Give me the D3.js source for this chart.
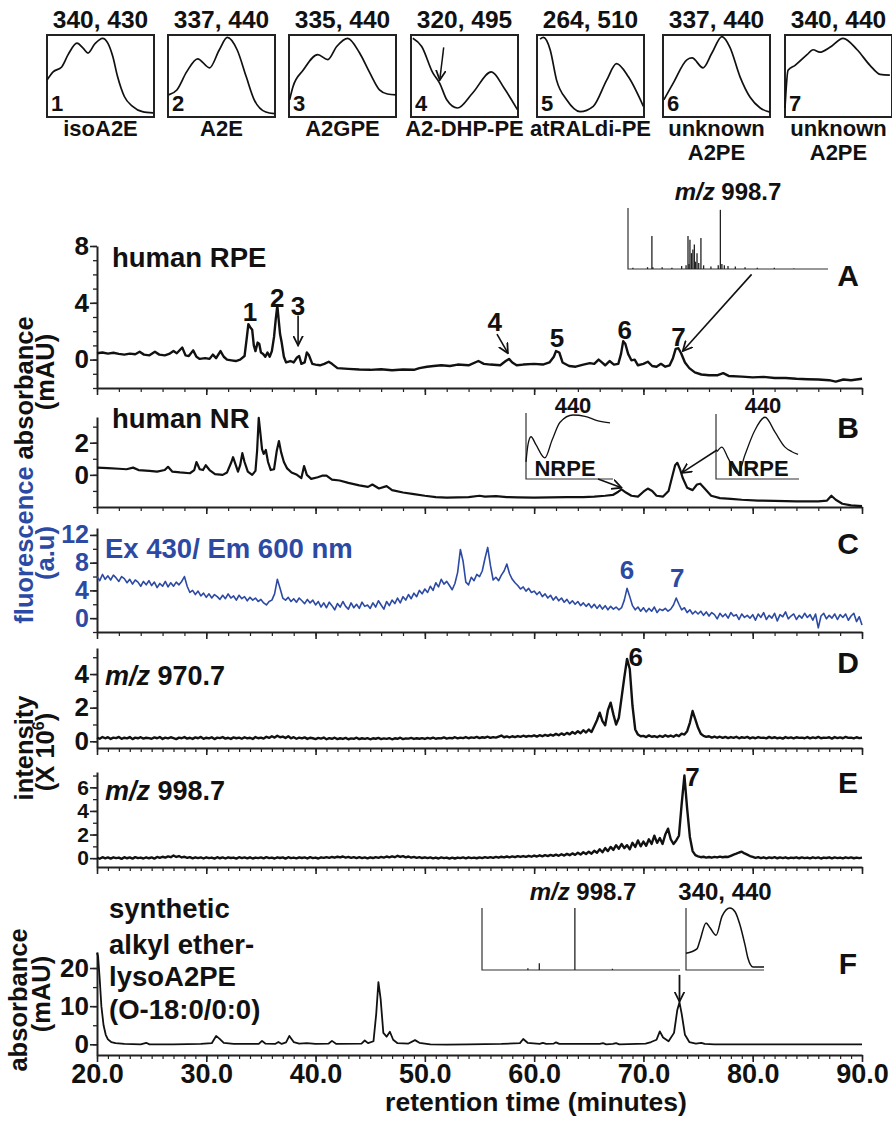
<!DOCTYPE html>
<html>
<head>
<meta charset="utf-8">
<script src="https://cdn.jsdelivr.net/npm/d3@7"></script>
<style>
  body { margin: 0; background: #fff; }
  text { font-family: "Liberation Sans", Arial, Helvetica, sans-serif; font-weight: bold; }
</style>
</head>
<body>
<svg id="fig" width="892" height="1124"></svg>
<script>
// ---------------- data ----------------
const spectrumLabels = ["340, 430", "337, 440", "335, 440", "320, 495", "264, 510", "337, 440", "340, 440"];
const compoundNames = [["isoA2E"], ["A2E"], ["A2GPE"], ["A2-DHP-PE"], ["atRALdi-PE"], ["unknown", "A2PE"], ["unknown", "A2PE"]];

// UV-vis spectra of peaks 1-7: [wavelength nm, relative absorbance]
const spec1 = [[250,0.45],[270,0.55],[298,0.61],[319,0.76],[348,0.90],[368,0.84],[384,0.78],[406,0.89],[432,0.96],[449,0.90],[465,0.74],[481,0.49],[503,0.25],[530,0.13],[562,0.065],[597,0.05]];
const spec2 = [[252,0.27],[279,0.33],[311,0.55],[347,0.71],[386,0.60],[418,0.82],[444,0.97],[476,0.82],[506,0.49],[532,0.21],[570,0.06],[598,0.04]];
const spec3 = [[252,0.21],[263,0.37],[296,0.57],[344,0.76],[377,0.70],[406,0.86],[442,0.96],[481,0.78],[514,0.54],[546,0.33],[572,0.28],[600,0.27]];
const spec4 = [[256,0.96],[285,0.86],[321,0.54],[344,0.41],[367,0.21],[402,0.11],[451,0.29],[513,0.55],[555,0.35],[598,0.09]];
const spec5 = [[260,0.95],[271,0.97],[293,0.82],[314,0.45],[347,0.21],[391,0.065],[434,0.13],[478,0.45],[510,0.65],[549,0.49],[598,0.13]];
const spec6 = [[253,0.21],[283,0.41],[329,0.70],[345,0.72],[381,0.60],[410,0.78],[443,0.98],[469,0.85],[502,0.49],[535,0.24],[568,0.11],[600,0.06]];
const spec7 = [[250,0.11],[260,0.57],[283,0.63],[322,0.76],[342,0.82],[364,0.79],[397,0.85],[440,0.96],[486,0.82],[528,0.63],[561,0.52],[593,0.51]];
const spectra = [spec1, spec2, spec3, spec4, spec5, spec6, spec7];

// A: human RPE, absorbance (mAU) vs retention time (min)
const rpeTrace = [[20,0.45],[20.5,0.5],[21,0.42],[21.5,0.48],[22,0.4],[22.5,0.35],[23,0.42],[23.5,0.38],[23.9,0.55],[24.3,0.35],[24.8,0.3],[25.3,0.55],[25.7,0.35],[26.2,0.3],[26.6,0.4],[27,0.6],[27.3,0.45],[27.8,0.85],[28.1,0.3],[28.4,0.25],[28.8,0.65],[29.1,0.2],[29.4,0.05],[29.9,0.1],[30.3,0.05],[30.6,0.35],[30.9,0.1],[31.3,0.6],[31.6,0.2],[31.9,0.0],[32.3,-0.05],[32.7,-0.1],[33.1,0.0],[33.5,0.25],[33.7,1.5],[33.85,2.5],[34.0,2.3],[34.2,2.1],[34.35,1.0],[34.5,0.6],[34.7,1.2],[34.85,1.1],[35.0,0.5],[35.2,0.4],[35.4,0.2],[35.6,0.5],[35.8,0.2],[36.0,0.6],[36.2,1.6],[36.35,2.8],[36.5,3.8],[36.6,3.0],[36.75,1.8],[36.9,1.2],[37.1,0.2],[37.3,-0.2],[37.7,-0.1],[38.0,-0.2],[38.3,0.15],[38.5,0.25],[38.7,-0.3],[39.0,-0.2],[39.2,0.5],[39.4,0.3],[39.7,-0.3],[40,-0.35],[40.4,-0.4],[40.8,-0.3],[41.2,-0.15],[41.5,-0.3],[42,-0.6],[43,-0.65],[44,-0.7],[45,-0.72],[46,-0.68],[47,-0.75],[48,-0.7],[49,-0.72],[49.5,-0.6],[50.2,-0.5],[50.8,-0.45],[51.5,-0.4],[52.3,-0.45],[53,-0.35],[54,-0.4],[54.9,-0.1],[55.4,-0.3],[56,-0.35],[56.9,-0.4],[57.4,-0.1],[57.7,0.05],[58.0,-0.2],[58.4,-0.4],[59,-0.35],[60,-0.3],[60.8,-0.35],[61.4,-0.2],[61.8,0.2],[62.0,0.6],[62.3,0.5],[62.6,-0.2],[63.2,-0.45],[63.8,-0.5],[64.5,-0.35],[65.1,-0.25],[65.5,-0.3],[65.9,0.0],[66.2,-0.2],[66.5,-0.4],[66.9,-0.1],[67.3,-0.35],[67.7,-0.3],[67.95,0.4],[68.15,1.3],[68.35,1.1],[68.6,0.4],[68.9,-0.05],[69.2,0.0],[69.5,-0.4],[70.0,-0.3],[70.4,-0.15],[70.8,-0.45],[71.2,-0.5],[71.6,-0.3],[72.0,-0.5],[72.4,-0.4],[72.7,0.1],[72.95,0.75],[73.2,0.8],[73.45,0.45],[73.8,-0.2],[74.2,-0.6],[74.7,-0.9],[75.3,-1.05],[76,-1.1],[76.8,-1.1],[77.3,-0.95],[77.8,-1.15],[79,-1.2],[80,-1.25],[81,-1.22],[82,-1.3],[83,-1.3],[84,-1.35],[85,-1.38],[86,-1.4],[87,-1.45],[87.6,-1.55],[88.3,-1.4],[89,-1.45],[90,-1.35]];

// B: human NR, absorbance (mAU)
const nrTrace = [[20,0.45],[21,0.42],[22,0.38],[22.7,0.35],[23.3,0.45],[23.8,0.3],[24.8,0.25],[25.5,0.2],[26.2,0.3],[26.5,0.5],[26.9,0.2],[27.6,0.15],[28.5,0.1],[28.9,0.3],[29.1,0.8],[29.4,0.35],[29.7,0.3],[29.95,0.6],[30.3,0.3],[30.8,0.05],[31.5,0.0],[31.9,0.15],[32.3,0.8],[32.45,1.1],[32.7,0.6],[32.9,0.2],[33.1,0.6],[33.3,1.35],[33.5,0.8],[33.8,0.2],[34.2,0.0],[34.5,0.25],[34.65,1.5],[34.8,3.55],[34.95,2.6],[35.1,1.6],[35.25,1.3],[35.45,1.55],[35.65,0.8],[35.9,0.3],[36.2,0.35],[36.45,1.5],[36.65,2.1],[36.85,1.4],[37.1,0.8],[37.4,0.4],[37.8,0.15],[38.3,0.0],[38.7,-0.2],[38.95,0.55],[39.2,0.0],[39.6,-0.25],[40.2,-0.15],[40.6,-0.05],[41.0,-0.05],[41.5,-0.3],[42.2,-0.35],[43,-0.5],[44,-0.65],[44.8,-0.75],[45.2,-0.6],[45.8,-0.85],[46.5,-0.7],[47,-0.95],[48,-1.1],[49,-1.2],[50,-1.3],[51,-1.38],[52,-1.42],[53,-1.4],[54,-1.38],[55,-1.3],[55.5,-1.35],[56.5,-1.32],[57.5,-1.38],[58.5,-1.4],[60,-1.42],[61.5,-1.4],[63,-1.38],[64.5,-1.38],[65.5,-1.35],[66.5,-1.3],[67.2,-1.25],[67.7,-1.05],[68.0,-0.9],[68.4,-1.1],[68.9,-1.3],[69.5,-1.35],[70.0,-1.05],[70.4,-0.85],[70.8,-1.0],[71.2,-1.3],[71.8,-1.35],[72.3,-1.0],[72.6,-0.2],[72.9,0.6],[73.1,0.75],[73.35,0.35],[73.6,-0.2],[74.0,-0.8],[74.5,-0.95],[74.9,-0.6],[75.2,-0.55],[75.6,-0.85],[76.2,-1.3],[77,-1.45],[78,-1.5],[79,-1.55],[80.5,-1.6],[82,-1.62],[84,-1.65],[86,-1.65],[86.8,-1.6],[87.2,-1.3],[87.6,-1.55],[88.2,-1.8],[89,-1.9],[90,-1.95]];

// C, D, E are sampled every 0.25 min from 20.0 to 90.0 min
const SAMPLE_START = 20, SAMPLE_STEP = 0.25;

// C: fluorescence Ex 430 / Em 600 nm (a.u.)
const fluorValues = [
 6.0,5.4,6.3,5.6,6.1,5.5,6.2,5.8,5.3,6.0,5.7,5.1,5.6,4.9,5.5,5.2,4.6,5.3,4.8,5.4,
 4.7,5.2,4.4,5.0,4.6,5.3,4.5,5.1,4.6,5.2,4.8,5.3,6.0,4.6,3.7,4.0,3.4,3.9,3.2,3.6,
 3.0,3.5,2.9,3.4,3.1,2.7,3.3,2.8,3.5,2.9,3.2,2.6,3.3,2.8,3.1,2.5,3.0,2.6,2.9,2.4,
 2.7,2.2,1.9,2.4,2.6,3.5,5.6,4.3,2.9,2.6,3.0,2.4,2.8,2.3,2.9,2.5,2.1,2.7,2.2,2.6,
 1.9,2.4,1.6,2.2,1.5,2.3,1.8,1.2,2.1,1.6,2.4,1.7,1.3,2.2,1.5,2.0,1.4,2.3,1.7,1.9,
 1.4,2.2,1.6,2.5,1.9,1.3,2.4,1.8,2.6,2.1,2.9,2.2,3.1,2.6,3.4,2.8,3.6,3.1,4.0,3.5,
 4.2,3.7,4.6,4.0,5.1,4.5,5.6,4.9,5.3,4.7,4.1,5.0,6.6,9.9,8.2,5.2,4.8,5.9,5.4,6.3,
 6.0,6.8,8.6,10.2,7.6,5.5,5.9,5.4,6.2,6.8,7.8,6.4,5.6,5.1,4.7,4.2,4.5,3.9,4.3,3.7,
 3.9,3.4,3.8,3.1,3.5,2.9,3.3,2.6,3.1,2.5,2.9,2.3,2.7,2.1,2.5,2.0,2.4,1.8,2.2,1.7,
 2.1,1.5,2.0,1.4,1.9,1.3,1.8,1.2,1.7,1.3,1.6,1.2,1.5,2.6,4.3,3.1,1.8,1.2,1.6,1.0,
 1.5,0.9,1.4,1.0,1.6,0.8,1.3,1.1,1.4,1.0,1.3,1.9,2.9,2.0,1.2,1.5,0.8,1.2,0.6,1.0,
 0.6,1.0,0.4,0.9,0.3,0.8,0.5,-0.1,0.7,0.2,0.6,0.0,0.8,0.3,0.5,-0.2,0.6,0.1,0.4,0.0,
 0.5,-0.3,0.6,0.1,0.8,-0.2,0.4,0.0,0.7,-0.4,0.5,0.2,0.9,-0.1,0.3,0.6,-0.2,0.4,0.0,0.7,
 0.1,0.5,-0.3,0.6,-1.4,0.3,0.7,-0.1,0.4,0.0,0.6,-0.2,0.5,0.1,0.6,-0.3,0.3,0.7,-0.5,0.2,
 -1.0];

// D: extracted ion m/z 970.7, intensity (x 10^6)
const ion970Values = [
 0.22,0.15,0.25,0.18,0.24,0.14,0.22,0.19,0.26,0.15,0.21,0.17,0.25,0.13,0.22,0.18,0.24,0.16,0.21,0.19,
 0.15,0.23,0.18,0.25,0.14,0.22,0.17,0.24,0.19,0.13,0.22,0.18,0.25,0.16,0.21,0.14,0.23,0.18,0.26,0.15,
 0.21,0.17,0.24,0.13,0.22,0.19,0.25,0.16,0.21,0.14,0.23,0.18,0.22,0.15,0.24,0.17,0.21,0.14,0.25,0.18,
 0.22,0.16,0.27,0.2,0.3,0.22,0.33,0.24,0.28,0.2,0.3,0.18,0.24,0.15,0.22,0.17,0.23,0.14,0.21,0.18,
 0.13,0.2,0.16,0.22,0.12,0.19,0.15,0.21,0.13,0.18,0.14,0.2,0.12,0.17,0.15,0.21,0.13,0.18,0.14,0.19,
 0.12,0.18,0.15,0.2,0.13,0.17,0.14,0.19,0.12,0.18,0.15,0.21,0.13,0.17,0.16,0.2,0.14,0.18,0.15,0.19,
 0.14,0.2,0.16,0.22,0.15,0.19,0.17,0.23,0.16,0.2,0.18,0.24,0.17,0.22,0.19,0.25,0.18,0.23,0.2,0.26,
 0.19,0.24,0.21,0.27,0.2,0.25,0.22,0.28,0.34,0.24,0.29,0.23,0.3,0.25,0.31,0.26,0.33,0.27,0.32,0.29,
 0.35,0.28,0.36,0.3,0.38,0.32,0.4,0.34,0.44,0.36,0.47,0.38,0.5,0.41,0.55,0.45,0.6,0.48,0.66,0.52,
 0.7,0.55,0.9,1.25,1.7,1.2,0.95,1.85,2.3,1.6,1.0,1.4,2.6,3.8,4.9,4.3,2.1,0.7,0.4,0.3,
 0.32,0.25,0.35,0.27,0.3,0.24,0.33,0.26,0.36,0.28,0.34,0.27,0.38,0.3,0.45,0.4,0.6,1.1,1.8,1.3,
 0.8,0.45,0.32,0.26,0.3,0.22,0.28,0.21,0.27,0.2,0.26,0.19,0.25,0.2,0.27,0.18,0.24,0.2,0.26,0.17,
 0.23,0.18,0.25,0.2,0.22,0.17,0.26,0.19,0.24,0.18,0.22,0.16,0.25,0.19,0.23,0.17,0.24,0.2,0.22,0.18,
 0.25,0.17,0.23,0.19,0.26,0.18,0.22,0.2,0.24,0.16,0.25,0.19,0.23,0.18,0.26,0.2,0.22,0.17,0.24,0.19,
 0.21];

// E: extracted ion m/z 998.7, intensity (x 10^6)
const ion998Values = [
 0.05,-0.05,0.08,-0.02,0.06,-0.04,0.07,0.0,0.05,-0.06,0.08,-0.01,0.06,-0.04,0.09,0.0,0.05,-0.03,0.07,-0.01,
 0.06,-0.04,0.1,0.02,0.12,0.05,0.15,0.08,0.22,0.1,0.18,0.06,0.12,0.02,0.09,-0.02,0.07,0.0,0.06,-0.03,
 0.07,0.0,0.05,-0.04,0.08,-0.01,0.06,-0.03,0.07,0.01,0.05,-0.04,0.08,0.0,0.06,-0.02,0.07,-0.03,0.05,0.0,
 0.06,-0.02,0.08,0.0,0.05,-0.03,0.07,0.01,0.06,-0.04,0.08,0.0,0.05,-0.02,0.07,0.01,0.06,-0.03,0.08,0.0,
 0.05,-0.03,0.07,0.02,0.09,0.03,0.1,0.04,0.12,0.06,0.14,0.05,0.11,0.03,0.09,0.01,0.08,0.0,0.06,-0.02,
 0.07,0.01,0.09,0.03,0.11,0.05,0.14,0.07,0.16,0.08,0.2,0.1,0.17,0.07,0.14,0.05,0.11,0.03,0.09,0.01,
 0.07,0.0,0.06,-0.02,0.05,-0.03,0.06,0.0,0.05,-0.04,0.04,-0.03,0.05,0.0,0.06,-0.02,0.07,0.0,0.05,-0.01,
 0.06,0.0,0.08,0.02,0.09,0.03,0.11,0.04,0.12,0.06,0.14,0.07,0.15,0.08,0.17,0.1,0.18,0.11,0.2,0.12,
 0.22,0.14,0.24,0.15,0.26,0.17,0.28,0.19,0.3,0.2,0.33,0.22,0.36,0.25,0.4,0.28,0.45,0.3,0.5,0.35,
 0.55,0.38,0.62,0.45,0.75,0.5,0.85,0.6,0.95,0.7,1.1,0.8,1.2,0.85,1.1,0.75,1.3,0.95,1.5,1.0,
 1.4,1.05,1.6,1.2,1.9,1.3,1.7,1.2,2.0,2.5,1.6,1.2,1.5,1.9,4.6,7.0,4.2,1.8,0.6,0.25,
 0.15,0.08,0.12,0.05,0.1,0.04,0.11,0.06,0.13,0.08,0.12,0.1,0.2,0.3,0.38,0.48,0.55,0.4,0.3,0.18,
 0.1,0.02,0.08,0.0,0.07,-0.02,0.06,0.01,0.08,-0.01,0.06,0.0,0.07,-0.02,0.05,0.01,0.07,-0.01,0.06,0.0,
 0.05,-0.02,0.07,0.0,0.06,-0.03,0.05,0.01,0.07,-0.02,0.06,0.0,0.05,-0.02,0.07,0.0,0.06,-0.01,0.05,0.0,
 0.04];

// F: synthetic alkyl ether-lysoA2PE, absorbance (mAU)
const syntheticTrace = [[20.0,24],[20.1,23],[20.25,17],[20.4,10],[20.6,5],[20.8,2.5],[21.0,1.3],[21.3,0.6],[21.7,0.3],[22.5,0.1],[24,0.0],[24.5,0.4],[24.8,0.0],[27,0.0],[29.5,0.1],[30.5,0.3],[30.9,2.2],[31.2,1.5],[31.6,0.4],[32.5,0.1],[34.8,0.1],[35.1,0.9],[35.4,0.2],[36.3,0.1],[36.6,0.6],[36.9,0.1],[37.3,0.5],[37.6,2.2],[38.0,0.6],[38.5,0.2],[39.2,0.3],[40,0.1],[41.2,0.2],[41.5,0.9],[41.9,0.1],[44.2,0.2],[44.5,1.0],[44.8,0.3],[45.3,0.8],[45.55,8],[45.75,16.3],[45.95,12],[46.2,3],[46.5,2],[46.8,3.3],[47.1,1.2],[47.5,0.3],[48.5,0.2],[49.1,1.1],[49.5,0.4],[50.5,0.0],[52,-0.1],[54,0.0],[57,0.1],[58.7,0.3],[59.0,1.4],[59.4,0.4],[60.5,0.1],[60.8,0.4],[61.1,0.1],[61.8,0.2],[62.0,0.5],[62.3,0.1],[66,0.1],[66.3,0.3],[66.6,0.0],[67.2,0.1],[67.5,0.3],[67.8,0.0],[70.2,0.2],[70.7,0.6],[71.2,1.2],[71.5,3.4],[71.8,1.8],[72.3,0.8],[72.8,3],[73.1,9],[73.3,11],[73.5,8],[73.8,2.5],[74.2,0.6],[74.8,0.2],[75.3,0.4],[75.6,0.1],[76.5,0.0],[90,0.0]];

// mass spectra insets: [m/z, relative intensity]
const msRpe = [[640,0.02],[700,0.03],[718,0.54],[722,0.03],[760,0.03],[800,0.02],[840,0.05],[858,0.06],[866,0.54],[870,0.08],[874,0.48],[880,0.26],[886,0.32],[892,0.4],[897,0.12],[903,0.26],[910,0.1],[919,0.51],[930,0.06],[960,0.04],[990,0.06],[998.7,0.97],[1005,0.08],[1015,0.06],[1030,0.05],[1060,0.04],[1100,0.03],[1150,0.02],[1220,0.02],[1300,0.01]];
const msSynthetic = [[797,0.03],[846,0.11],[998.7,1.0],[1160,0.02]];

// UV-vis insets of the NR peaks and the synthetic standard: [nm, relative absorbance]
const nrSpecLeft = [[250,0.26],[258,0.52],[270,0.64],[290,0.52],[326,0.32],[355,0.59],[387,0.86],[439,0.97],[487,0.95],[540,0.88],[588,0.85]];
const nrSpecRight = [[254,0.42],[275,0.49],[301,0.32],[343,0.08],[372,0.37],[414,0.75],[457,0.95],[499,0.72],[541,0.49],[570,0.42],[596,0.38]];
const synthSpec = [[250,0.27],[299,0.34],[313,0.48],[340,0.76],[358,0.68],[385,0.56],[412,0.87],[447,1.0],[470,0.94],[492,0.73],[515,0.4],[528,0.19],[551,0.05],[600,0.05]];

const xTickValues = [20, 30, 40, 50, 60, 70, 80, 90];

// ---------------- drawing ----------------
const svg = d3.select("#fig");
const BLUE = "#2c4aa3";
const INK = "#111";
const FONT = '"Liberation Sans", Arial, Helvetica, sans-serif';

svg.append("defs").append("marker")
  .attr("id", "head").attr("viewBox", "0 0 10 10")
  .attr("refX", 9).attr("refY", 5)
  .attr("markerWidth", 11).attr("markerHeight", 11)
  .attr("markerUnits", "userSpaceOnUse")
  .attr("orient", "auto")
  .append("path").attr("d", "M0,0.5 L9,5 L0,9.5")
  .attr("fill", "none").attr("stroke", INK).attr("stroke-width", 1.6);

function arrow(x1, y1, x2, y2, w = 1.6) {
  svg.append("line").attr("x1", x1).attr("y1", y1).attr("x2", x2).attr("y2", y2)
    .attr("stroke", INK).attr("stroke-width", w).attr("marker-end", "url(#head)");
}
function label(txt, px, py, size, opts = {}) {
  return svg.append("text").attr("x", px).attr("y", py)
    .attr("font-size", size).attr("fill", opts.fill || INK)
    .attr("text-anchor", opts.anchor || "middle")
    .attr("font-style", opts.italic ? "italic" : null)
    .text(txt);
}

// ----- spectra boxes along the top -----
const boxLeft = [47, 168, 289, 411, 537, 663, 785];
const boxW = 107, boxTop = 35, boxBottom = 117;
const specLine = d3.line().curve(d3.curveMonotoneX);

spectra.forEach((spec, i) => {
  const sx = d3.scaleLinear().domain([250, 600]).range([boxLeft[i], boxLeft[i] + boxW]);
  const sy = d3.scaleLinear().domain([0, 1]).range([boxBottom, boxTop]);
  svg.append("rect").attr("x", boxLeft[i]).attr("y", boxTop)
    .attr("width", boxW).attr("height", boxBottom - boxTop)
    .attr("fill", "none").attr("stroke", "#222").attr("stroke-width", 2);
  svg.append("path").attr("d", specLine.x(d => sx(d[0])).y(d => sy(d[1]))(spec))
    .attr("fill", "none").attr("stroke", INK).attr("stroke-width", 1.7);
  const cx = boxLeft[i] + boxW / 2;
  label(spectrumLabels[i], cx, 28, 24.5);
  label(String(i + 1), boxLeft[i] + 4, 111, 22, { anchor: "start" });
  compoundNames[i].forEach((nm, k) => label(nm, cx, 136 + k * 24, 22));
  if (i === 3) arrow(sx(357), sy(0.85), sx(344), sy(0.45), 1.5);
});

// ----- chromatogram panels -----
const x = d3.scaleLinear().domain([20, 90]).range([97, 862]);

const panels = {
  A: { top: 246, bottom: 388, domain: [-2, 8], ticks: [0, 4, 8], minor: 1, xMinor: 2, tickFont: 26 },
  B: { top: 417, bottom: 507, domain: [-2, 3.6], ticks: [0, 2], minor: 1, xMinor: 2, tickFont: 26 },
  C: { top: 528, bottom: 632, domain: [-2, 13], ticks: [0, 4, 8, 12], minor: 2, xMinor: 2, tickFont: 25, color: BLUE },
  D: { top: 648, bottom: 748, domain: [-0.4, 5.55], ticks: [0, 2, 4], minor: 1, xMinor: 1, tickFont: 26 },
  E: { top: 772, bottom: 867, domain: [-0.75, 7.3], ticks: [0, 2, 4, 6], minor: 1, xMinor: 1, tickFont: 21 },
  F: { top: 952, bottom: 1055, domain: [-2.8, 24.2], ticks: [0, 10, 20], minor: 5, xMinor: 1, tickFont: 26 }
};

Object.entries(panels).forEach(([key, p]) => {
  p.y = d3.scaleLinear().domain(p.domain).range([p.bottom, p.top]);
  const g = svg.append("g");

  // left axis: minor ticks, then labelled major ticks
  const minorVals = d3.range(Math.ceil(p.domain[0] / p.minor) * p.minor, p.domain[1] + 1e-9, p.minor);
  g.append("g").attr("transform", "translate(97,0)")
    .call(d3.axisLeft(p.y).tickValues(minorVals).tickSize(4).tickSizeOuter(0).tickFormat(""))
    .call(a => a.selectAll("line").attr("stroke", "#222").attr("stroke-width", 1.3))
    .call(a => a.select(".domain").attr("stroke", "#222").attr("stroke-width", 2));
  g.append("g").attr("transform", "translate(97,0)")
    .call(d3.axisLeft(p.y).tickValues(p.ticks).tickSize(7).tickSizeOuter(0).tickPadding(1).tickFormat(d3.format("d")))
    .call(a => a.select(".domain").remove())
    .call(a => a.selectAll("line").attr("stroke", "#222").attr("stroke-width", 1.6))
    .call(a => a.selectAll("text").attr("font-size", p.tickFont).attr("font-family", FONT)
      .attr("font-weight", "bold").attr("fill", p.color || INK));

  // bottom axis
  const minorX = d3.range(20, 90.001, p.xMinor);
  g.append("g").attr("transform", `translate(0,${p.bottom})`)
    .call(d3.axisBottom(x).tickValues(minorX).tickSize(4).tickSizeOuter(0).tickFormat(""))
    .call(a => a.selectAll("line").attr("stroke", "#222").attr("stroke-width", 1.2))
    .call(a => a.select(".domain").attr("stroke", "#222").attr("stroke-width", 2.2));
  const major = g.append("g").attr("transform", `translate(0,${p.bottom})`)
    .call(d3.axisBottom(x).tickValues(xTickValues).tickSize(7).tickSizeOuter(0)
      .tickPadding(2).tickFormat(key === "F" ? d3.format(".1f") : ""))
    .call(a => a.select(".domain").remove())
    .call(a => a.selectAll("line").attr("stroke", "#222").attr("stroke-width", 1.6));
  major.selectAll("text").attr("font-size", 27).attr("font-family", FONT)
    .attr("font-weight", "bold").attr("fill", INK);
});

function trace(p, data, color, width) {
  const line = d3.line().x(d => x(d[0])).y(d => p.y(d[1]));
  svg.append("path").datum(data).attr("d", line)
    .attr("fill", "none").attr("stroke", color).attr("stroke-width", width)
    .attr("stroke-linejoin", "round");
}
const sampled = vals => vals.map((v, i) => [SAMPLE_START + i * SAMPLE_STEP, v]);

trace(panels.A, rpeTrace, INK, 2.4);
trace(panels.B, nrTrace, INK, 2.2);
trace(panels.C, sampled(fluorValues), BLUE, 1.6);
trace(panels.D, sampled(ion970Values), INK, 2.4);
trace(panels.E, sampled(ion998Values), INK, 2.4);
trace(panels.F, syntheticTrace, INK, 1.8);

// panel letters
[["A", 275], ["B", 427], ["C", 543], ["D", 662], ["E", 782], ["F", 963]].forEach(([k, cy]) =>
  label(k, 848, cy + 11, 30));

// ----- panel A annotations -----
const A = panels.A;
label("human RPE", 112, 267, 27.5, { anchor: "start" });
[["1", 34.0, 3.35], ["2", 36.5, 4.34], ["3", 38.4, 3.77], ["4", 56.4, 2.65],
 ["5", 62.1, 1.52], ["6", 68.3, 2.08], ["7", 73.2, 1.59]].forEach(([t, tx, v]) =>
  label(t, x(tx), A.y(v) + 9, 26));
arrow(x(38.4), A.y(3.1), x(38.4), A.y(1.0));
arrow(x(56.6), A.y(1.8), x(57.6), A.y(0.45));
arrow(x(79.9), A.y(6.0), x(73.6), A.y(0.6));

// mass-spectrum inset above panel A
{
  const mx = d3.scaleLinear().domain([620, 1440]).range([628, 828]);
  const my = d3.scaleLinear().domain([0, 1]).range([269, 208]);
  svg.append("path").attr("d", `M${mx(620)},${my(1.0)}V${my(0)}H${mx(1440)}`)
    .attr("fill", "none").attr("stroke", "#333").attr("stroke-width", 1.2);
  svg.selectAll(null).data(msRpe).enter().append("line")
    .attr("x1", d => mx(d[0])).attr("x2", d => mx(d[0]))
    .attr("y1", my(0)).attr("y2", d => my(d[1]))
    .attr("stroke", "#222").attr("stroke-width", 1.3);
  const t = svg.append("text").attr("x", 728).attr("y", 200).attr("font-size", 24)
    .attr("text-anchor", "middle").attr("fill", INK);
  t.append("tspan").attr("font-style", "italic").text("m/z");
  t.append("tspan").text(" 998.7");
}

// ----- panel B annotations -----
const B = panels.B;
label("human NR", 112, 428, 27.5, { anchor: "start" });
function uvInset(spec, left, right, top, bottom, width = 1.3) {
  const ux = d3.scaleLinear().domain([250, 600]).range([left, right]);
  const uy = d3.scaleLinear().domain([0, 1]).range([bottom, top]);
  svg.append("path").attr("d", `M${left},${top}V${bottom}H${right}`)
    .attr("fill", "none").attr("stroke", "#333").attr("stroke-width", 1.2);
  svg.append("path").attr("d", specLine.x(d => ux(d[0])).y(d => uy(d[1]))(spec))
    .attr("fill", "none").attr("stroke", INK).attr("stroke-width", width);
}
uvInset(nrSpecLeft, 526, 613, 413, 479);
uvInset(nrSpecRight, 716, 799, 414, 479);
label("440", 573, 413, 22);
label("440", 763, 413, 22);
label("NRPE", 565, 476, 22);
label("NRPE", 758, 476, 22);
arrow(598, 479, x(68.0), B.y(-0.8), 1.5);
arrow(717, 450, x(73.5), B.y(0.12), 1.5);

// ----- panel C annotations -----
const C = panels.C;
label("Ex 430/ Em 600 nm", 105, 558, 27.5, { anchor: "start", fill: BLUE });
label("6", x(68.5), C.y(7.0) + 9, 26, { fill: BLUE });
label("7", x(73.1), C.y(5.8) + 9, 26, { fill: BLUE });

// ----- panels D & E annotations -----
const D = panels.D, E = panels.E;
function mzLabel(txt, px, py) {
  const t = svg.append("text").attr("x", px).attr("y", py).attr("font-size", 27).attr("fill", INK);
  t.append("tspan").attr("font-style", "italic").text("m/z");
  t.append("tspan").text(" " + txt);
}
mzLabel("970.7", 105, 685);
mzLabel("998.7", 105, 800);
label("6", x(69.3), D.y(5.0) + 9, 26);
label("7", x(74.5), E.y(6.9) + 9, 26);

// ----- panel F annotations -----
const F = panels.F;
["synthetic", "alkyl ether-", "lysoA2PE", "(O-18:0/0:0)"].forEach((s, i) =>
  label(s, 109, [918, 954, 986, 1019][i], 27.5, { anchor: "start" }));
{
  const mx = d3.scaleLinear().domain([600, 1450]).range([482, 680]);
  const my = d3.scaleLinear().domain([0, 1]).range([970, 908]);
  svg.append("path").attr("d", `M${mx(600)},${my(1)}V${my(0)}H${mx(1450)}`)
    .attr("fill", "none").attr("stroke", "#333").attr("stroke-width", 1.2);
  svg.selectAll(null).data(msSynthetic).enter().append("line")
    .attr("x1", d => mx(d[0])).attr("x2", d => mx(d[0]))
    .attr("y1", my(0)).attr("y2", d => my(d[1]))
    .attr("stroke", "#222").attr("stroke-width", 1.3);
  const t = svg.append("text").attr("x", 583).attr("y", 900).attr("font-size", 24)
    .attr("text-anchor", "middle").attr("fill", INK);
  t.append("tspan").attr("font-style", "italic").text("m/z");
  t.append("tspan").text(" 998.7");
}
uvInset(synthSpec, 686, 764, 908, 970, 1.5);
label("340, 440", 725, 900, 24);
arrow(x(73.3), F.y(18.2), x(73.3), F.y(11.2), 1.8);

// x-axis title
label("retention time (minutes)", 536, 1111, 26.5);

// ----- y-axis titles -----
function yTitle(parts, px, cy, color, size = 25.5) {
  const t = svg.append("text").attr("transform", `translate(${px},${cy}) rotate(-90)`)
    .attr("text-anchor", "middle").attr("font-size", size).attr("fill", color);
  parts.forEach(pt => {
    const s = t.append("tspan").text(pt.t);
    if (pt.sup) s.attr("font-size", 16).attr("dy", -10);
    if (pt.down) s.attr("dy", 10);
  });
}
yTitle([{ t: "absorbance" }], 33, 388, INK);
yTitle([{ t: "(mAU)" }], 54, 372, INK);
yTitle([{ t: "fluorescence" }], 33, 545, BLUE);
yTitle([{ t: "(a.u)" }], 54, 553, BLUE);
yTitle([{ t: "intensity" }], 33, 748, INK);
yTitle([{ t: "(X 10" }, { t: "6", sup: true }, { t: ")", down: true }], 54, 752, INK);
yTitle([{ t: "absorbance" }], 27, 1000, INK);
yTitle([{ t: "(mAU)" }], 50, 994, INK);
</script>
</body>
</html>
